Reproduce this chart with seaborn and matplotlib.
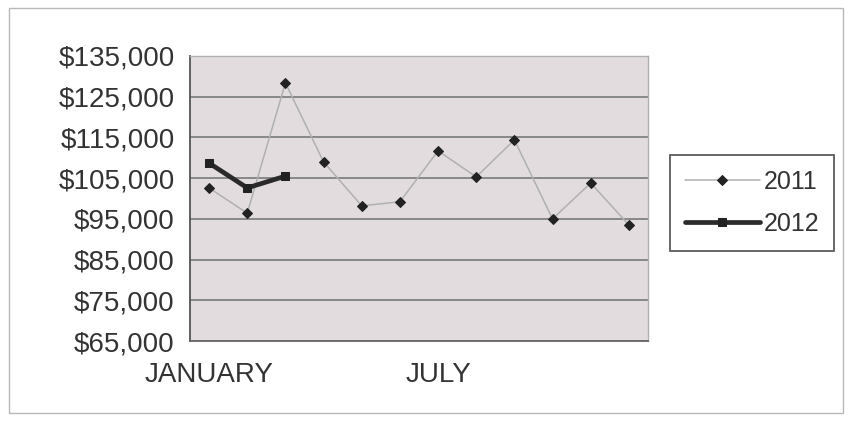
import pandas as pd
import seaborn as sns
import matplotlib.pyplot as plt
from matplotlib.patches import Rectangle
from matplotlib.ticker import FuncFormatter

months = ["JANUARY", "FEBRUARY", "MARCH", "APRIL", "MAY", "JUNE",
          "JULY", "AUGUST", "SEPTEMBER", "OCTOBER", "NOVEMBER", "DECEMBER"]
sales_2011 = [102600, 96400, 128400, 109000, 98200, 99200,
              111700, 105300, 114400, 95000, 103800, 93500]
sales_2012 = [108700, 102600, 105500]

df = pd.concat([
    pd.DataFrame({"Month": months, "Sales": sales_2011, "Year": "2011"}),
    pd.DataFrame({"Month": months[:3], "Sales": sales_2012, "Year": "2012"}),
])

sns.set_style("white")
plt.rcParams["font.family"] = ["Liberation Sans", "DejaVu Sans"]

fig = plt.figure(figsize=(8.52, 4.21), dpi=100)
ax = fig.add_axes([0.223, 0.19, 0.5375, 0.677])

sns.lineplot(data=df[df["Year"] == "2011"], x="Month", y="Sales", ax=ax,
             color="#b0b0b0", linewidth=1.1, marker="D", markersize=5.5,
             markerfacecolor="#222222", markeredgecolor="#222222",
             label="2011", sort=False)
sns.lineplot(data=df[df["Year"] == "2012"], x="Month", y="Sales", ax=ax,
             color="#2a2a2a", linewidth=3.4, marker="s", markersize=5.5,
             markerfacecolor="#222222", markeredgecolor="#222222",
             label="2012", sort=False)

ax.set_facecolor("#e3dcde")
ax.set_ylim(65000, 135000)
ax.set_yticks(range(65000, 135001, 10000))
ax.yaxis.set_major_formatter(FuncFormatter(lambda v, p: f"${v:,.0f}"))
ax.grid(axis="y", color="#7a7a7a", linewidth=1.2)
ax.set_axisbelow(True)

ax.set_xlim(-0.5, 11.5)
ax.set_xticks([i - 0.5 for i in range(13)])
ax.set_xticklabels([])
ax.set_xticks([0, 6], minor=True)
ax.set_xticklabels(["JANUARY", "JULY"], minor=True)
ax.tick_params(axis="x", which="major", direction="out", length=6,
               color="#999999", width=1)
ax.tick_params(axis="x", which="minor", length=0, pad=15, labelsize=20,
               labelcolor="#333333")
ax.tick_params(axis="y", direction="out", length=6, color="#666666",
               labelsize=20, labelcolor="#333333", pad=5)
ax.set_xlabel("")
ax.set_ylabel("")

for side in ["top", "right"]:
    ax.spines[side].set_color("#b0b0b0")
    ax.spines[side].set_linewidth(1)
ax.spines["left"].set_color("#555555")
ax.spines["bottom"].set_color("#666666")
ax.spines["left"].set_linewidth(1.3)
ax.spines["bottom"].set_linewidth(1.3)

leg = ax.legend(loc="center left", bbox_to_anchor=(1.048, 0.485),
                fontsize=18, frameon=True, fancybox=False,
                borderpad=0.6, labelspacing=0.7, handlelength=3.0,
                handletextpad=0.15, borderaxespad=0)
leg.get_frame().set_edgecolor("#333333")
leg.get_frame().set_linewidth(1.3)
for t in leg.get_texts():
    t.set_color("#333333")

fig.patches.append(Rectangle((0.01, 0.02), 0.98, 0.96, transform=fig.transFigure,
                             fill=False, edgecolor="#b8b8b8", linewidth=1))

plt.savefig("out.png", dpi=100)
